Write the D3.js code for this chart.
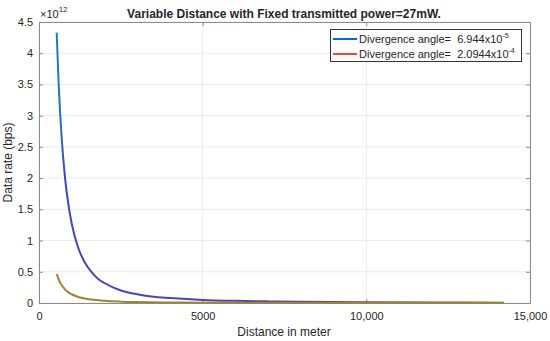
<!DOCTYPE html>
<html>
<head>
<meta charset="utf-8">
<script src="https://cdn.jsdelivr.net/npm/d3@7"></script>
<style>
  body { margin: 0; background: #fff; }
  text { font-family: "Liberation Sans", Arial, sans-serif; fill: #262626; }
</style>
</head>
<body>
<div id="chart"></div>
<script>
// distances (m) and data rate in units of 1e12 bps
var distBlue = [540, 600, 700, 800, 900, 1000, 1200, 1400, 1600, 1800, 2000, 2500, 3000, 3500, 4000, 5000, 6000, 7000, 8000, 10000, 12000, 14200];
var rateBlue = [4.33, 3.52, 2.59, 1.98, 1.57, 1.27, 0.88, 0.65, 0.50, 0.39, 0.32, 0.20, 0.14, 0.10, 0.08, 0.05, 0.035, 0.026, 0.02, 0.013, 0.009, 0.006];
var distOrange = [540, 600, 700, 800, 900, 1000, 1200, 1400, 1600, 2000, 2500, 3000, 4000, 5000, 7000, 10000, 14200];
var rateOrange = [0.465, 0.38, 0.28, 0.215, 0.17, 0.14, 0.097, 0.071, 0.055, 0.035, 0.022, 0.015, 0.0085, 0.0055, 0.003, 0.0015, 0.0007];
var xTicks = [0, 5000, 10000, 15000];
var xTickLabels = ["0", "5000", "10,000", "15,000"];
var yTicks = [0, 0.5, 1, 1.5, 2, 2.5, 3, 3.5, 4, 4.5];
var legendNames = ["Divergence angle=  6.944x10", "Divergence angle=  2.0944x10"];
var legendExp = ["-5", "-4"];

var width = 550, height = 341;
var margin = {top: 22, right: 20, bottom: 38, left: 39};

var x = d3.scaleLinear().domain([0, 15000]).range([margin.left, width - margin.right]);
var y = d3.scaleLinear().domain([0, 4.5]).range([height - margin.bottom, margin.top]);

var svg = d3.select("#chart").append("svg")
  .attr("width", width)
  .attr("height", height);

// gradients to mimic the tinted lines of the picture
var defs = svg.append("defs");
var gb = defs.append("linearGradient").attr("id", "gblue")
  .attr("gradientUnits", "userSpaceOnUse")
  .attr("x1", 0).attr("x2", 0).attr("y1", y(4.5)).attr("y2", y(0));
gb.append("stop").attr("offset", "0%").attr("stop-color", "#1a7fc6");
gb.append("stop").attr("offset", "35%").attr("stop-color", "#1f74c4");
gb.append("stop").attr("offset", "55%").attr("stop-color", "#4046c0");
gb.append("stop").attr("offset", "100%").attr("stop-color", "#4a44bc");
var go = defs.append("linearGradient").attr("id", "gorange")
  .attr("gradientUnits", "userSpaceOnUse")
  .attr("x1", 0).attr("x2", 0).attr("y1", y(0.5)).attr("y2", y(0));
go.append("stop").attr("offset", "0%").attr("stop-color", "#b07a2c");
go.append("stop").attr("offset", "100%").attr("stop-color", "#968a2c");

// grid
svg.append("g").selectAll("line").data(xTicks).join("line")
  .attr("x1", d => x(d)).attr("x2", d => x(d))
  .attr("y1", y(0)).attr("y2", y(4.5))
  .attr("stroke", "#ebebeb").attr("stroke-width", 1);
svg.append("g").selectAll("line").data(yTicks).join("line")
  .attr("x1", x(0)).attr("x2", x(15000))
  .attr("y1", d => y(d)).attr("y2", d => y(d))
  .attr("stroke", "#ebebeb").attr("stroke-width", 1);

// axes, ticks pointing inside like matlab
var xAxis = d3.axisBottom(x).tickValues(xTicks).tickSize(-4).tickPadding(9)
  .tickFormat((d, i) => xTickLabels[i]);
var yAxis = d3.axisLeft(y).tickValues(yTicks).tickSize(-4).tickPadding(6)
  .tickFormat(d3.format("~g"));

var gx = svg.append("g").attr("transform", "translate(0," + y(0) + ")").call(xAxis);
var gy = svg.append("g").attr("transform", "translate(" + x(0) + ",0)").call(yAxis);
svg.append("g").attr("transform", "translate(0," + y(4.5) + ")")
  .call(d3.axisTop(x).tickValues(xTicks).tickSize(-4).tickFormat(""));
svg.append("g").attr("transform", "translate(" + x(15000) + ",0)")
  .call(d3.axisRight(y).tickValues(yTicks).tickSize(-4).tickFormat(""));

svg.selectAll(".domain, .tick line").attr("stroke", "#8c8c8c");
gx.selectAll("text").attr("font-size", 11).style("font-family", "'Liberation Sans', Arial, sans-serif").attr("fill", "#262626");
gy.selectAll("text").attr("font-size", 11).style("font-family", "'Liberation Sans', Arial, sans-serif").attr("fill", "#262626");

// lines
var line = d3.line()
  .x(d => x(d[0]))
  .y(d => y(d[1]))
  .curve(d3.curveMonotoneX);

svg.append("path")
  .datum(distBlue.map((d, i) => [d, rateBlue[i]]))
  .attr("d", line)
  .attr("fill", "none")
  .attr("stroke", "url(#gblue)")
  .attr("stroke-width", 2);

svg.append("path")
  .datum(distOrange.map((d, i) => [d, rateOrange[i]]))
  .attr("d", line)
  .attr("fill", "none")
  .attr("stroke", "url(#gorange)")
  .attr("stroke-width", 2);

// exponent
var ex = svg.append("text").attr("x", x(0) + 1).attr("y", 18).attr("font-size", 11).attr("fill", "#555");
ex.append("tspan").text("\u00d710");
ex.append("tspan").attr("dy", -6).attr("font-size", 8).text("12");

// title and labels
svg.append("text")
  .attr("x", 284).attr("y", 17.5)
  .attr("text-anchor", "middle")
  .attr("font-size", 12).attr("font-weight", "bold")
  .attr("fill", "#000")
  .text("Variable Distance with Fixed transmitted power=27mW.");

svg.append("text")
  .attr("x", 284).attr("y", 336)
  .attr("text-anchor", "middle")
  .attr("font-size", 12)
  .text("Distance in meter");

svg.append("text")
  .attr("transform", "translate(12," + ((y(0) + y(4.5)) / 2) + ") rotate(-90)")
  .attr("text-anchor", "middle")
  .attr("font-size", 12)
  .text("Data rate (bps)");

// legend
var legend = svg.append("g");
legend.append("rect")
  .attr("x", 330.5).attr("y", 29.5).attr("width", 191).attr("height", 32)
  .attr("fill", "#fff").attr("stroke", "#333").attr("stroke-width", 1);
var legColors = ["#0072bd", "#f0483a"];
legendNames.forEach(function(name, i) {
  var ly = 39 + i * 15;
  legend.append("line")
    .attr("x1", 333).attr("x2", 357).attr("y1", ly).attr("y2", ly)
    .attr("stroke", legColors[i]).attr("stroke-width", 2);
  var t = legend.append("text").attr("x", 359).attr("y", ly + 4).attr("font-size", 11)
    .style("white-space", "pre");
  t.append("tspan").text(name);
  t.append("tspan").attr("dy", -5).attr("font-size", 7).text(legendExp[i]);
});
</script>
</body>
</html>
